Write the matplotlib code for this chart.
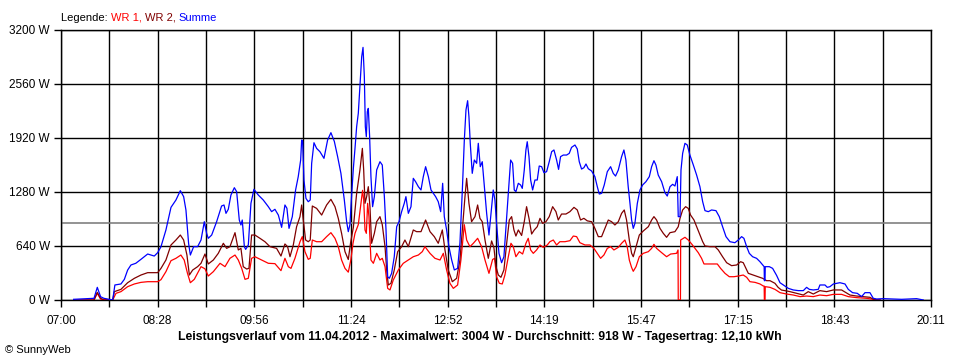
import matplotlib
matplotlib.use("Agg")
import matplotlib.pyplot as plt

plt.rcParams['font.family'] = ['Liberation Sans', 'DejaVu Sans']

# minutes after 07:00 and power in W
t_sum = [11.5, 30, 33, 36, 39, 47, 49, 54.5, 57.6, 60.6, 63.6, 68, 72.7, 78.8, 84.8, 87.9, 90.9, 95.4, 100, 104.5,
         108.5, 111.5, 113.6, 116, 117.6, 120.6, 124.2, 127.3, 130.3, 132.4, 133.9, 137, 141.5, 146, 148.2, 150,
         152.1, 154.5, 157.6, 159.7, 162.1, 163.6, 164.8, 166.7, 167.9, 170.3, 172.7, 175.4, 179.4, 183.9, 188.5,
         191.5, 194.5, 197.6, 200.6, 203.6, 205.4, 207.3, 210.3, 213.3, 215.7, 217.9, 218.8, 219.7, 220.9, 222.7,
         224.8, 226.6, 227.9, 230, 232.4, 235.4, 239.1, 242.4, 245.4, 248.5, 251.5, 254.5, 257.6, 259.7, 261.2,
         262.7, 263.7, 265.8, 267.3, 268.8, 270.3, 271.8, 273.4, 274.6, 275.8, 276.7, 277.6, 278.5, 279.4, 280.6,
         281.8, 283.3, 284.9, 287, 290, 292.1, 294, 295.5, 297, 298.5, 300.6, 303, 305.2, 307.3, 309.7, 312.1,
         313.6, 315.8, 318.2, 320.3, 322.4, 324.9, 327.3, 329.4, 331.5, 334, 336.4, 338.5, 340.6, 343, 345.2, 347,
         348.5, 350.6, 352.7, 355.2, 357.6, 360.6, 362.7, 364.9, 366.7, 368.2, 369.7, 370.9, 372.1, 373.9, 375.8,
         377.9, 379.4, 381.2, 383, 384.9, 387, 389.1, 391.5, 393, 394.5, 396, 398.2, 400.6, 402.7, 405.2, 407.3,
         408.8, 410.6, 412.1, 413.6, 415.8, 417.9, 419.4, 421.2, 422.7, 423.9, 425.5, 427, 428.8, 430.9, 433,
         434.8, 437, 439.1, 441.5, 443.9, 446.1, 448.2, 450.6, 452.4, 454.2, 456.7, 459.7, 462.1, 464.2, 467.3,
         469.4, 471.2, 473.3, 475.4, 477.3, 479.4, 482.4, 485.4, 487.6, 489.4, 491.5, 493.9, 496.7, 499.7, 502.1,
         504.2, 506.7, 509.7, 511.8, 513.6, 515.7, 517.3, 518.8, 520.3, 521.8, 524, 526.4, 528.8, 531.8, 534.9,
         537, 539.1, 540.9, 543, 546.1, 549.1, 551.2, 553.7, 556.1, 558.2, 560.3, 561.2, 562.8, 563.7, 565.2,
         567.3, 569.4, 571.8, 574.9, 577.9, 580.9, 583.4, 585.5, 588.5, 591.5, 595.5, 598.5, 601.5, 604.6, 608.2,
         612.7, 615.8, 618.8, 620.9, 623.4, 625.8, 628.8, 632.4, 635.5, 639.3, 639.5, 640.1, 640.3, 644, 647,
         650.6, 653.7, 656.7, 661.3, 665.8, 670.4, 674.9, 677.9, 680.4, 684, 688.5, 690, 694.6, 696.7, 699.1,
         702.2, 705.2, 708.2, 712.8, 715.8, 719.7, 724, 727.9, 731, 735.5, 738.5, 741.6, 747.6, 756.7, 764.3,
         777.9, 781, 784]
p_sum = [8, 20, 150, 39, 20, 0, 178, 190, 245, 355, 415, 435, 482, 545, 521, 561, 632, 830, 1098, 1185,
         1296, 1225, 1066, 672, 533, 632, 632, 711, 928, 790, 731, 770, 928, 1114, 1126, 1027,
         1075, 1244, 1331, 1284, 948, 889, 948, 632, 600, 652, 1146, 1312, 1244, 1185, 1106,
         1047, 1075, 1007, 861, 1126, 1087, 849, 988, 1304, 1462, 1659, 1896, 1880, 1422, 1205,
         1165, 1185, 1620, 1864, 1797, 1758, 1679, 1896, 1983, 1880, 1699, 1501, 1185, 928, 810,
         893, 1126, 1560, 1797, 2054, 2212, 2528, 2884, 2994, 2646, 2054, 1936, 2232, 2271, 1936,
         1462, 1106, 1225, 1541, 1639, 1600, 1225, 830, 276, 257, 316, 513, 869, 928, 1047, 1146,
         1225, 1027, 1106, 1442, 1402, 1343, 1304, 1462, 1580, 1462, 1304, 1264, 1225, 1165, 1047, 1383,
         988, 830, 632, 474, 356, 375, 672, 1304, 1896, 2252, 2362, 2173, 1857, 1501, 1659,
         1620, 1857, 1580, 1639, 1343, 1027, 770, 1106, 1304, 1185, 908, 553, 442, 513, 988, 1383,
         1659, 1620, 1304, 1284, 1383, 1363, 1323, 1541, 1778, 1876, 1699, 1422, 1304, 1422, 1422,
         1588, 1580, 1509, 1521, 1639, 1758, 1778, 1659, 1548, 1699, 1718, 1718, 1738, 1809, 1837,
         1790, 1639, 1552, 1568, 1612, 1556, 1529, 1462, 1343, 1256, 1264, 1363, 1521, 1580, 1501,
         1469, 1541, 1699, 1778, 1659, 1343, 1146, 948, 849, 908, 1146, 1304, 1363, 1402, 1462,
         1580, 1651, 1600, 1481, 1402, 1272, 1232, 1343, 1371, 1351, 1462, 988, 988, 1541, 1738,
         1857, 1837, 1718, 1600, 1481, 1343, 1165, 1059, 1047, 1067, 1059, 988, 869, 751, 691,
         679, 711, 751, 731, 632, 553, 513, 494, 454, 395, 229, 229, 395, 395, 375,
         292, 205, 178, 138, 119, 111, 111, 150, 126, 119, 126, 178, 178, 150, 158,
         190, 198, 205, 190, 126, 87, 79, 40, 87, 87, 20, 12, 16, 12, 8,
         16, 8, 0]

t_wr2 = [11.5, 30, 33, 36, 39, 47, 48.5, 54.5, 60.6, 66.7, 72.7, 78.8, 87.9, 90.9, 95.4, 100, 104.5, 108.5,
         111.5, 114.5, 116.7, 119.7, 124.2, 127.3, 130.9, 133.9, 138.5, 143, 147.6, 150.6, 153.6, 158.2, 161.2,
         163.6, 165.7, 168.8, 170.9, 173.3, 176.3, 180.9, 185.4, 190, 196, 200, 203.6, 206, 208.2, 211.2, 214.2,
         217.3, 218.8, 220.3, 222.4, 224.8, 226.6, 228.5, 232.4, 237, 241.5, 245.4, 249.1, 252.1, 255.1, 258.2,
         261.2, 263.3, 265.8, 268.8, 271.8, 274, 275.2, 276.4, 277.9, 279.4, 280.9, 282.4, 284.9, 287, 290,
         292.1, 294.6, 296.1, 297.6, 300, 303, 306.1, 309.7, 312.7, 315.8, 320.3, 323.3, 327.3, 331.5, 335.5,
         339.4, 343, 346.7, 349.1, 352.1, 355.8, 359.7, 362.7, 364.9, 367.3, 368.8, 370.9, 373.3, 376.4, 378.8,
         380.9, 383, 385.5, 388.5, 391.5, 393.6, 395.5, 397.6, 400, 402.7, 405.2, 407.6, 409.7, 411.8, 413.6,
         415.8, 418.8, 421.2, 423.3, 425.5, 427.9, 430.3, 433, 435.5, 437.9, 440.9, 443.9, 447, 450, 452.1,
         455.1, 459.1, 462.7, 466.4, 469.4, 472.4, 475.4, 478.5, 482.4, 485.4, 488.5, 491.5, 494.5, 497.6,
         500.6, 503.6, 506.7, 509.7, 512.1, 514.2, 516.7, 518.8, 520.3, 523.3, 525.8, 529.4, 534, 537, 539.1,
         541.5, 544.6, 547.6, 550.6, 553.7, 558.2, 561.2, 562.8, 565.2, 567.9, 570.3, 572.4, 575.5, 577.9,
         580.9, 583.4, 585.5, 590, 594.6, 597.6, 601.5, 605.2, 609.7, 614.3, 617.9, 620.3, 622.7, 624.9,
         629.4, 634, 637.9, 641.5, 644.6, 649.1, 652, 655, 658.2, 662.8, 668.8, 674.9, 679.4, 684, 690, 696.1,
         702.2, 709.7, 713.7, 717.3, 723.4, 729.4, 735.5, 738.5, 745]
p_wr2 = [0, 0, 91, 20, 0, 0, 99, 126, 205, 257, 296, 324, 324, 375, 474, 652, 711, 770,
         711, 533, 296, 355, 395, 435, 545, 427, 474, 553, 672, 612, 632, 798, 593,
         612, 395, 367, 375, 770, 770, 731, 691, 632, 612, 521, 664, 632, 513, 652, 869,
         988, 1126, 948, 711, 691, 711, 1114, 1086, 1007, 1126, 1193, 1106, 968, 790, 573,
         480, 680, 860, 1264, 1541, 1797, 1541, 1146, 1225, 1343, 1106, 672, 790, 928, 988,
         893, 632, 356, 178, 198, 356, 573, 632, 711, 632, 830, 810, 810, 948, 810,
         751, 672, 830, 593, 356, 217, 257, 474, 830, 1225, 1442, 1146, 928, 988, 1126,
         968, 928, 711, 494, 700, 620, 395, 296, 269, 356, 672, 948, 988, 830, 758,
         830, 765, 928, 1106, 968, 782, 830, 869, 968, 908, 928, 988, 1106, 1047, 948,
         1019, 1019, 1047, 1098, 1067, 948, 968, 938, 928, 849, 751, 751, 849, 948,
         928, 889, 928, 1027, 1067, 948, 711, 553, 513, 652, 770, 818, 869, 948, 988,
         948, 849, 790, 743, 798, 810, 869, 968, 1067, 1106, 1086, 1007, 948, 869,
         770, 691, 640, 632, 632, 593, 513, 442, 407, 415, 454, 442, 375, 316,
         296, 276, 257, 229, 229, 198, 150, 118, 111, 99, 79, 59, 99, 71, 111, 99,
         119, 119, 87, 59, 47, 40, 32, 8, 0]

t_wr1 = [11.5, 30, 33, 36, 47, 50, 54.5, 60.6, 66.7, 72.7, 78.8, 87.9, 90.9, 95.4, 100, 104.5, 109, 112, 115,
         117.6, 121.2, 127.3, 130.9, 133.9, 138.5, 144.6, 149.1, 153.6, 158.2, 161.2, 164.3, 167.3, 170.3,
         173.3, 176.3, 182.4, 188.5, 194.5, 200, 203.6, 206.7, 209.1, 212.7, 217.3, 219.4, 221.8, 224.8, 226.6,
         228.5, 232.4, 237, 241.5, 245.4, 249.1, 252.1, 255.1, 258.2, 261.2, 263.5, 265.5, 267.3, 270.3, 272.7,
         274.2, 275.2, 276.4, 277.6, 278.8, 280, 281.8, 284, 287, 290, 292.1, 294.6, 297, 299.1, 302.1, 306.7,
         311.2, 315.8, 320.3, 324.9, 328.5, 330.9, 335.5, 340, 344.6, 347.6, 350.6, 353.6, 356.7, 360.6, 363.6,
         366.7, 368.8, 371.8, 374.9, 378.8, 382.4, 385.5, 389.1, 392.4, 394.2, 396, 398.5, 401.2, 403.6, 406.7,
         409.1, 411.2, 413.6, 416.7, 419.7, 422.7, 424.8, 427, 429.4, 432.4, 435.5, 438.5, 442.1, 444.5, 447.6,
         450.6, 453.6, 458.2, 462.7, 465.8, 468.8, 471.8, 476.4, 480.9, 484.5, 487.6, 490.6, 493.6, 496.7,
         499.7, 502.7, 506.7, 509.7, 512.7, 514.8, 516.7, 518.8, 520.3, 522.8, 525.8, 529.4, 534, 537, 539.1,
         541.5, 546.1, 550.6, 554.3, 559.7, 561.0, 561.2, 563.2, 563.4, 567.3, 570.3, 573.4, 576.4, 579.4,
         582.4, 584.6, 590, 596.7, 599.7, 603.7, 607.6, 611.8, 615.8, 620.3, 623.4, 626.4, 631, 635.5, 638.5,
         639.3, 639.5, 640.1, 640.3, 644.6, 649.1, 653.7, 659.7, 665.8, 671.9, 677.9, 684, 690, 696.1, 702.2,
         709.7, 715.8, 723.4, 732.4, 738.5, 745]
p_wr1 = [0, 0, 80, 10, 0, 79, 99, 158, 190, 209, 217, 217, 241, 336, 466, 494, 533, 474, 316,
         205, 245, 395, 370, 284, 336, 435, 395, 494, 533, 474, 375, 245, 257,
         494, 513, 474, 435, 431, 348, 494, 395, 375, 494, 691, 751, 573, 482, 494,
         711, 691, 691, 751, 798, 731, 632, 474, 375, 330, 474, 672, 790, 893, 1146,
         1300, 1185, 830, 790, 1146, 988, 474, 435, 553, 474, 494, 395, 138, 119, 237, 356,
         435, 474, 513, 533, 573, 632, 553, 494, 474, 553, 356, 198, 138, 178, 474,
         893, 711, 632, 672, 731, 632, 474, 316, 480, 494, 276, 198, 190, 296, 513,
         672, 632, 513, 573, 545, 672, 731, 593, 553, 593, 652, 624, 652, 691, 711,
         652, 691, 691, 703, 758, 751, 679, 652, 652, 612, 553, 494, 533, 612,
         632, 593, 624, 672, 711, 632, 474, 385, 340, 395, 513, 553, 573, 612, 660,
         612, 561, 513, 545, 553, 593, 0, 0, 711, 743, 711, 664, 612, 561,
         494, 427, 427, 427, 375, 316, 276, 276, 284, 296, 269, 217, 209, 190, 166,
         166, 0, 0, 158, 150, 126, 87, 71, 59, 40, 47, 40, 59, 51, 67,
         67, 40, 28, 20, 8, 0]

average = 918
x_ticks = ["07:00", "08:28", "09:56", "11:24", "12:52", "14:19", "15:47", "17:15", "18:43", "20:11"]
y_ticks = [0, 640, 1280, 1920, 2560, 3200]
span = 791  # 07:00 .. 20:11
title = ("Leistungsverlauf vom 11.04.2012 - Maximalwert: 3004 W - "
         "Durchschnitt: 918 W - Tagesertrag: 12,10 kWh")

fig = plt.figure(figsize=(9.6, 3.6), dpi=100)
ax = fig.add_axes([61/960, 1 - 300/360, 870/960, 270/360])

grid_pos = [span * i / 18 for i in range(19)]
ax.set_xticks(grid_pos)
ax.set_xticklabels([x_ticks[i // 2] if i % 2 == 0 else "" for i in range(19)])
ax.set_yticks(y_ticks)
ax.set_yticklabels([f"{v} W" for v in y_ticks])
ax.grid(True, color="black", linewidth=1.0)
ax.set_axisbelow(True)
ax.set_xlim(0, span)
ax.set_ylim(0, 3200)
for s in ax.spines.values():
    s.set_color("black")
    s.set_linewidth(1.0)
ax.tick_params(direction="out", length=5, width=1, labelsize=8.5, colors="black", pad=3)
ax.tick_params(axis="x", pad=6)

ax.axhline(average, color="#808080", linewidth=1.2, zorder=1.5)

ax.plot(t_wr1, p_wr1, color="#ff0000", linewidth=0.9, zorder=3)
ax.plot(t_wr2, p_wr2, color="#800000", linewidth=0.9, zorder=3)
ax.plot(t_sum, p_sum, color="#0000ff", linewidth=0.9, zorder=4)

# legend line at the top, coloured word by word
t = fig.text(61/960, 1 - 23/360, "Legende: ", fontsize=8, color="black", va="bottom")
for word, col in [("WR 1, ", "#ff0000"), ("WR 2, ", "#800000"), ("Summe", "#0000ff")]:
    t = ax.annotate(word, xy=(1, 0), xycoords=t, va="bottom", ha="left",
                    fontsize=8, color=col, annotation_clip=False)

fig.text(0.5, 1 - 337/360, title, ha="center", va="center", fontsize=8.8, fontweight="bold")
fig.text(5/960, 1 - 350/360, "\u00a9 SunnyWeb", ha="left", va="center", fontsize=8)

fig.savefig("out.png", dpi=100)
